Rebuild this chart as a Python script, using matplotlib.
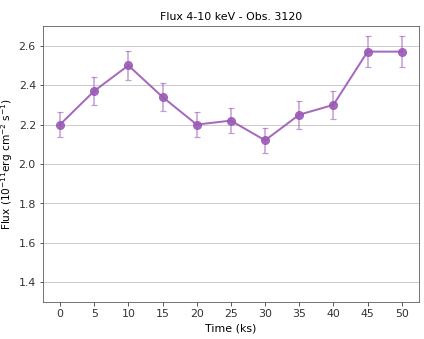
import matplotlib
matplotlib.use('Agg')
import matplotlib.pyplot as plt

time_ks = [0, 5, 10, 15, 20, 25, 30, 35, 40, 45, 50]
flux = [2.20, 2.37, 2.50, 2.34, 2.20, 2.22, 2.12, 2.25, 2.30, 2.57, 2.57]
flux_err = [0.065, 0.07, 0.075, 0.07, 0.065, 0.065, 0.065, 0.07, 0.07, 0.08, 0.08]
yticks = [1.4, 1.6, 1.8, 2.0, 2.2, 2.4, 2.6]

color = '#9b59b6'

fig, ax = plt.subplots(figsize=(5.9, 4.71), dpi=72)
ax.errorbar(time_ks, flux, yerr=flux_err, fmt='none', ecolor=color, alpha=0.6,
            capsize=3, elinewidth=1.5, capthick=1.2)
ax.plot(time_ks, flux, '-o', color=color, alpha=0.9, lw=2, ms=8)

ax.set_xticks(time_ks)
ax.set_yticks(yticks)
ax.set_ylim(1.3, 2.7)
ax.yaxis.grid(True, color='#cccccc', lw=1)
ax.set_axisbelow(True)
for s in ax.spines.values():
    s.set_color('#555555')
ax.tick_params(colors='#333333', labelsize=11)

ax.set_title('Flux 4-10 keV - Obs. 3120', fontsize=11)
ax.set_xlabel('Time (ks)', fontsize=11)
ax.set_ylabel('Flux (10$^{-11}$erg cm$^{-2}$ s$^{-1}$)', fontsize=10.5)

fig.subplots_adjust(left=0.101, right=0.986, top=0.923, bottom=0.109)
fig.savefig('out.png', dpi=72)
